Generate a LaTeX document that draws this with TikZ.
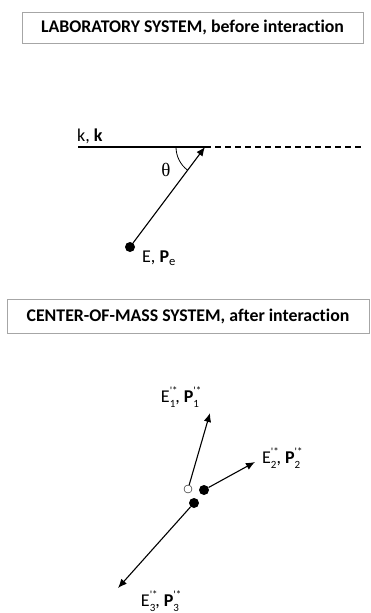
\documentclass[tikz,border=0pt]{standalone}
\usepackage{fontspec}
\setmainfont{Carlito}[Ligatures={TeX,CommonOff}]
\newfontfamily\thetafont{Liberation Serif}
\usepackage{tikz}
\usetikzlibrary{arrows.meta,positioning}

% stacked prime-star superscript and index subscript
\newcommand{\pstar}[2]{#1\makebox[0pt][l]{\raisebox{0.46em}{\fontsize{11}{11}\selectfont\textquotesingle*}}%
  \raisebox{-0.3em}{\fontsize{11}{11}\selectfont #2}}

\begin{document}
\begin{tikzpicture}[
  x=1pt, y=-1pt,
  title/.style={draw=gray!70, thick, font=\bfseries\fontsize{17.8}{20}\selectfont, inner sep=0pt},
  lbl/.style={font=\fontsize{18}{21}\selectfont, inner sep=1pt},
  dot/.style={circle, fill, inner sep=0pt, minimum size=10pt},
  hollow/.style={circle, draw, thin, inner sep=0pt, minimum size=8pt},
  vec/.style={-{Latex[length=9pt,width=7.5pt]}, line width=1.1pt}
]
\useasboundingbox (0,0) rectangle (370,613);

% laboratory system
\node[title, minimum width=341pt, minimum height=31pt] (labtitle) at (192.5,27.5)
  {LABORATORY SYSTEM, before interaction};

\coordinate (kstart) at (78,147);
\coordinate (tip) at (205,147);
\coordinate (dashend) at (362,147);
\node[dot] (e) at (130,247) {};

\draw[line width=1.2pt] (kstart) -- (tip);
\draw[line width=1.1pt, dash pattern=on 6pt off 4pt] (tip) -- (dashend);
\draw[vec] (e) -- (tip);
\draw[line width=0.8pt] (tip) ++(180:29) arc[start angle=180, end angle=127, radius=29];

\node[lbl, anchor=south west] (klbl) at (76,145) {k, \textbf{k}};
\node[lbl, font=\thetafont\fontsize{19}{21}\selectfont] (theta) at (166,170) {θ};
\node[lbl, anchor=west] (elbl) at (141,258) {E, \textbf{P}\textsubscript{e}};

% center-of-mass system
\node[title, minimum width=362pt, minimum height=34pt] (cmtitle) at (188,316)
  {CENTER-OF-MASS SYSTEM, after interaction};

\node[hollow] (p1) at (188,489) {};
\node[dot] (p2) at (204,490) {};
\node[dot] (p3) at (194,503) {};
\coordinate (t1) at (210,413);
\coordinate (t2) at (255,462);
\coordinate (t3) at (118,588);

\draw[vec] (p1) -- (t1);
\draw[vec] (p2) -- (t2);
\draw[vec] (p3) -- (t3);

\node[lbl] (l1) at (180,397) {\pstar{E}{1}, \pstar{\textbf{P}}{1}};
\node[lbl, anchor=west] (l2) at (261,458) {\pstar{E}{2}, \pstar{\textbf{P}}{2}};
\node[lbl] (l3) at (160,601) {\pstar{E}{3}, \pstar{\textbf{P}}{3}};
\end{tikzpicture}
\end{document}
